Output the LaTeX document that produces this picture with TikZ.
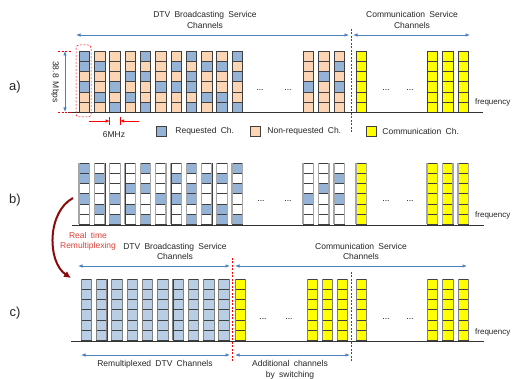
\documentclass[tikz,border=0pt]{standalone}
\usepackage{fontspec}
\setmainfont{Liberation Sans}[WordSpace=1.8]
\usetikzlibrary{arrows,arrows.meta,positioning}
\definecolor{req}{HTML}{95B3D7}
\definecolor{nreq}{HTML}{FCD5B5}
\definecolor{comm}{HTML}{FFFF00}
\definecolor{remux}{HTML}{B9CDE5}
\definecolor{spanblue}{HTML}{4F81BD}
\definecolor{rtred}{HTML}{E0403A}
\definecolor{bendred}{HTML}{8B0A0A}
\newcommand\cellw{10.5}
\newcommand\cellh{10.2}
% one channel = six cells, top down
\newcommand\chbar[3]{%
  \foreach \cf [count=\k from 0] in #3
    \filldraw[cellbox,fill=\cf] (#1,#2+\k*\cellh) rectangle ++(\cellw,\cellh);
  \draw[colside] (#1,#2) -- ++(0,6*\cellh) (#1+\cellw,#2) -- ++(0,6*\cellh);
}
\newcommand\dtvpat{{req,req,chbase,req,chbase,chbase},{chbase,req,chbase,chbase,req,chbase},%
{chbase,chbase,chbase,req,chbase,req},{chbase,chbase,req,chbase,req,chbase},%
{req,chbase,req,chbase,chbase,req},{chbase,chbase,chbase,req,chbase,chbase},%
{chbase,req,chbase,req,chbase,chbase},{req,chbase,req,req,chbase,req},%
{chbase,req,chbase,chbase,req,chbase},{chbase,req,chbase,chbase,req,req},%
{req,chbase,req,chbase,chbase,req}}
\newcommand\dtvpatR{{chbase,chbase,chbase,req,chbase,chbase},{chbase,chbase,req,chbase,chbase,chbase},%
{chbase,req,chbase,req,chbase,chbase}}
\newcommand\commpat{comm,comm,comm,comm,comm,comm}
\newcommand\remuxpat{remux,remux,remux,remux,remux,remux}

\begin{document}
\begin{tikzpicture}[x=1pt,y=-1pt,
  cellbox/.style={draw=black!75,line width=.5pt},
  colside/.style={draw=black!75,line width=.5pt},
  spanarr/.style={<->,>={Latex[length=4.5pt,width=3.5pt]},spanblue,line width=.7pt},
  sepline/.style={red,line width=.5pt,dash pattern=on 2pt off 1.5pt},
  lbl/.style={font=\fontsize{8.5}{10.5}\selectfont,text=black!85,align=center,inner sep=0pt},
  rowlbl/.style={font=\fontsize{13}{15}\selectfont,text=black!85},
  legbox/.style={draw=black!75,minimum size=10pt,inner sep=0pt},
  freq/.style={font=\fontsize{8}{10}\selectfont,text=black!85,anchor=base west,inner sep=0pt},
  gap/.style={font=\fontsize{8.5}{10}\selectfont,anchor=base,inner sep=0pt},
  baseln/.style={black!80,line width=.6pt}]
  \useasboundingbox[fill=white] (0,0) rectangle (515,379);%%

  %% a) all channels on air
  \begin{scope}
    \colorlet{chbase}{nreq}
    \foreach \pat [count=\i from 0] in \dtvpat {\chbar{79+\i*15.3}{51}{\pat}}
    \foreach \pat [count=\i from 0] in \dtvpatR {\chbar{303+\i*15.5}{51}{\pat}}
    \foreach \cx in {356,427,442.5,458} {\chbar{\cx}{51}{\commpat}}
  \end{scope}
  \coordinate (bA1) at (68,112); \coordinate (bA2) at (483,112);
  \draw[baseln] (bA1) -- (bA2);%%
  \node[rowlbl] (ra) at (15,87) {a)};
  \node[freq] (fa) at (475,105) {frequency};
  \node[gap] (dA1) at (260,91) {...}; \node[gap] (dA2) at (288,91) {...};
  \node[gap] (dA3) at (386,91) {...}; \node[gap] (dA4) at (410,91) {...};
  \node[lbl] (hdtvA) at (205,20) {DTV Broadcasting Service\\Channels};
  \node[lbl] (hcomA) at (412,20) {Communication Service\\Channels};
  \coordinate (dtvAL) at (76,35); \coordinate (dtvAR) at (349,35);
  \coordinate (comAL) at (353,35); \coordinate (comAR) at (470,35);
  \draw[spanarr] (dtvAL) -- (dtvAR);
  \draw[spanarr] (comAL) -- (comAR);
  \coordinate (sepT) at (351,29); \coordinate (sepB) at (351,133);
  \draw[sepline] (sepT) -- (sepB);
  \draw[sepline,rounded corners=3pt] (76,45) rectangle (91,117);
  % 38.8 Mbps
  \coordinate (mbT) at (65,51); \coordinate (mbB) at (65,112);
  \draw[spanarr] (mbT) -- (mbB);
  \draw[sepline] ([xshift=-7pt]mbT) -- ([xshift=6pt]mbT);
  \draw[sepline] ([xshift=-7pt]mbB) -- ([xshift=6pt]mbB);
  \node[lbl,rotate=-90] (mb) at (55,82) {38.8 Mbps};
  % 6MHz
  \coordinate (bwL) at (109.6,121); \coordinate (bwR) at (120.1,121);
  \draw[red,line width=.6pt,-{Latex[length=4pt,width=3.5pt]}] ([xshift=-21pt]bwL) -- (bwL);
  \draw[red,line width=.6pt,-{Latex[length=4pt,width=3.5pt]}] ([xshift=19pt]bwR) -- (bwR);
  \draw[red,line width=.5pt] ([yshift=4pt]bwL) -- ([yshift=-4pt]bwL);
  \draw[red,line width=.5pt] ([yshift=4pt]bwR) -- ([yshift=-4pt]bwR);
  \node[lbl] (bw) at (114,135) {6MHz};
  % legend
  \node[legbox,fill=req] (lreq) at (161,131) {};
  \node[lbl,right=9pt of lreq] (treq) {Requested Ch.};
  \node[legbox,fill=nreq] (lnreq) at (255,131) {};
  \node[lbl,right=7pt of lnreq] (tnreq) {Non-requested Ch.};
  \node[legbox,fill=comm] (lcomm) at (371,131) {};
  \node[lbl,right=6pt of lcomm] (tcomm) {Communication Ch.};

  %% b) requested channels only
  \begin{scope}
    \colorlet{chbase}{white}
    \tikzset{colside/.style={draw=black!35,line width=1.1pt}}
    \foreach \pat [count=\i from 0] in \dtvpat {\chbar{79+\i*15.3}{163}{\pat}}
    \foreach \pat [count=\i from 0] in \dtvpatR {\chbar{303+\i*15.5}{163}{\pat}}
    \foreach \cx in {356,427,442.5,458} {\chbar{\cx}{163}{\commpat}}
  \end{scope}
  \coordinate (bB1) at (72,225); \coordinate (bB2) at (484,225);
  \draw[baseln] (bB1) -- (bB2);%%
  \node[rowlbl] (rb) at (15,200) {b)};
  \node[freq] (fb) at (475,218) {frequency};
  \node[gap] (dB1) at (261,202) {...}; \node[gap] (dB2) at (288,202) {...};
  \node[gap] (dB3) at (386,202) {...}; \node[gap] (dB4) at (410,202) {...};

  %% remultiplexing
  \node[lbl,text=rtred] (rt) at (88,241.5) {Real time\\Remultiplexing};
  \coordinate (rmS) at (73,198); \coordinate (rmE) at (71,278);
  \draw[bendred,line width=2pt,-{Latex[length=7pt,width=7pt]}] (rmS) .. controls (47,212) and (47,262) .. (rmE);

  %% c) remultiplexed
  \begin{scope}
    \tikzset{colside/.style={draw=black!50,line width=.8pt}}
    \foreach \i in {0,...,9} {\chbar{81+\i*15.3}{279}{\remuxpat}}
    \foreach \cx in {235,307,322,337,356,427,442.5,458} {\chbar{\cx}{279}{\commpat}}
  \end{scope}
  \coordinate (bC1) at (71,341); \coordinate (bC2) at (484,341);
  \draw[baseln] (bC1) -- (bC2);%%
  \node[rowlbl] (rc) at (15,313) {c)};
  \node[freq] (fc) at (475,335) {frequency};
  \node[gap] (dC1) at (263,320) {...}; \node[gap] (dC2) at (289,320) {...};
  \node[gap] (dC3) at (386,320) {...}; \node[gap] (dC4) at (410,320) {...};
  \node[lbl] (hdtvC) at (175,251.5) {DTV Broadcasting Service\\Channels};
  \node[lbl] (hcomC) at (361,251.5) {Communication Service\\Channels};
  \coordinate (dtvCL) at (78,266); \coordinate (dtvCR) at (230,266);
  \coordinate (comCL) at (235,266); \coordinate (comCR) at (467,266);
  \draw[spanarr] (dtvCL) -- (dtvCR);
  \draw[spanarr] (comCL) -- (comCR);
  \coordinate (sepC1T) at (232,258); \coordinate (sepC1B) at (232,363);
  \coordinate (sepC2T) at (351,272); \coordinate (sepC2B) at (351,363);
  \draw[sepline] (sepC1T) -- (sepC1B);
  \draw[sepline] (sepC2T) -- (sepC2B);
  \coordinate (remL) at (81,355); \coordinate (remR) at (230,355);
  \coordinate (addL) at (235,355); \coordinate (addR) at (350,355);
  \draw[spanarr] (remL) -- (remR);
  \draw[spanarr] (addL) -- (addR);
  \node[lbl] (trem) at (155,364.5) {Remultiplexed DTV Channels};
  \node[lbl] (tadd) at (290,370) {Additional channels\\by switching};
\end{tikzpicture}
\end{document}
